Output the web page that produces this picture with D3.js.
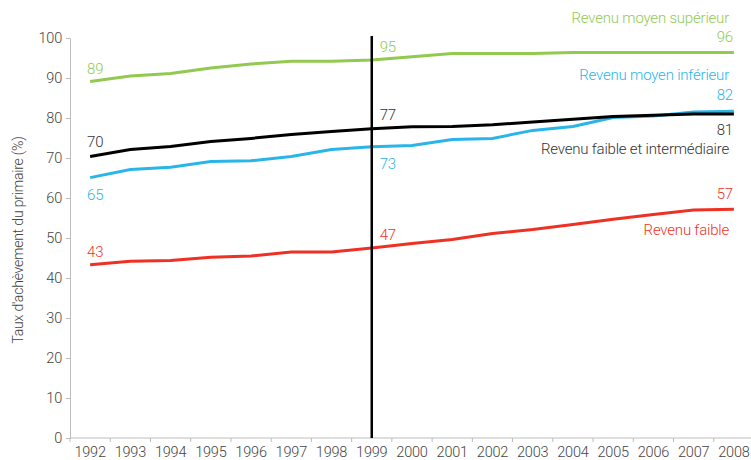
<!DOCTYPE html>
<html>
<head>
<meta charset="utf-8">
<script src="https://cdn.jsdelivr.net/npm/d3@7"></script>
<style>
  body { margin: 0; background: #fff; }
  svg text { font-family: "Roboto", "Liberation Sans", sans-serif; font-weight: 300; letter-spacing: -0.2px; }
  .axis path, .axis line { stroke: #bdbdbd; }
  .axis text { fill: #444; font-size: 14.5px; }
</style>
</head>
<body>
<script>
const WIDTH = 751;
const HEIGHT = 460;

// categories
const years = d3.range(1992, 2009).map(String);
const yTicks = [0, 10, 20, 30, 40, 50, 60, 70, 80, 90, 100];

// series values (%)
const upperMiddle = [89.1, 90.5, 91.1, 92.5, 93.5, 94.2, 94.2, 94.5, 95.3, 96.1, 96.1, 96.1, 96.4, 96.4, 96.4, 96.4, 96.4];
const lowerMiddle = [65.1, 67.1, 67.7, 69.1, 69.3, 70.4, 72.1, 72.8, 73.1, 74.6, 74.9, 76.9, 77.9, 80.1, 80.5, 81.5, 81.7];
const lowAndMiddle = [70.4, 72.1, 72.9, 74.1, 74.9, 75.9, 76.6, 77.3, 77.8, 77.9, 78.3, 79.0, 79.7, 80.4, 80.7, 81.0, 81.0];
const lowIncome = [43.3, 44.2, 44.4, 45.2, 45.5, 46.5, 46.5, 47.5, 48.6, 49.6, 51.1, 52.1, 53.4, 54.7, 55.9, 57.0, 57.2];

const seriesNames = ["Revenu moyen supérieur", "Revenu moyen inférieur", "Revenu faible et intermédiaire", "Revenu faible"];
const seriesColors = ["#92c94f", "#29b5e8", "#000000", "#ee3124"];
const labelColors = ["#92c94f", "#29b5e8", "#333333", "#ee3124"];
// labelled values: 1992, 1999, 2008
const firstLabels = ["89", "65", "70", "43"];
const midLabels = ["95", "73", "77", "47"];
const lastLabels = ["96", "82", "81", "57"];
const markYear = "1999";

const series = [upperMiddle, lowerMiddle, lowAndMiddle, lowIncome];

const margin = { left: 70, right: -3, top: 38, bottom: 22 };

const svg = d3.select("body").append("svg")
  .attr("width", WIDTH)
  .attr("height", HEIGHT);

const x = d3.scaleBand().domain(years)
  .range([margin.left, WIDTH - margin.right]);
const y = d3.scaleLinear().domain([0, 100])
  .range([HEIGHT - margin.bottom, margin.top]);
const cx = d => x(d) + x.bandwidth() / 2;

// axes
const xAxis = d3.axisBottom(x).tickSize(0).tickPadding(9);
const gx = svg.append("g").attr("class", "axis")
  .attr("transform", "translate(0," + (HEIGHT - margin.bottom) + ")")
  .call(xAxis);
gx.select(".domain").attr("d", "M" + margin.left + ",0H" + WIDTH);
// tick marks sit on band boundaries
gx.selectAll(".bound").data(years).enter().append("line")
  .attr("class", "bound")
  .attr("x1", d => x(d)).attr("x2", d => x(d))
  .attr("y1", 0).attr("y2", 4)
  .attr("stroke", "#bdbdbd");

const yAxis = d3.axisLeft(y).tickValues(yTicks).tickSize(4).tickPadding(4);
svg.append("g").attr("class", "axis")
  .attr("transform", "translate(" + margin.left + ",0)")
  .call(yAxis);

svg.append("text")
  .attr("transform", "rotate(-90)")
  .attr("x", -240)
  .attr("y", 23)
  .style("text-anchor", "middle")
  .style("font-size", "14px")
  .style("fill", "#444")
  .text("Taux d'achèvement du primaire (%)");

// lines
const line = d3.line()
  .x((d, i) => cx(years[i]))
  .y(d => y(d));

svg.selectAll(".series").data(series).enter().append("path")
  .attr("class", "series")
  .attr("d", d => line(d))
  .attr("fill", "none")
  .attr("stroke", (d, i) => seriesColors[i])
  .attr("stroke-width", 3);

// vertical marker at 1999
svg.append("line")
  .attr("x1", cx(markYear)).attr("x2", cx(markYear))
  .attr("y1", y(100) - 2).attr("y2", y(0))
  .attr("stroke", "#000").attr("stroke-width", 2.5);

// value labels
const fs = "15px";
const firstDy = [-8, 22, -9, -8];
series.forEach((s, i) => {
  svg.append("text")
    .attr("x", cx(years[0]) - 3)
    .attr("y", y(s[0]) + firstDy[i])
    .style("font-size", fs).style("fill", labelColors[i])
    .text(firstLabels[i]);
  const mi = years.indexOf(markYear);
  svg.append("text")
    .attr("x", cx(markYear) + 8)
    .attr("y", y(s[mi]) + firstDy[i])
    .style("font-size", fs).style("fill", labelColors[i])
    .text(midLabels[i]);
});

// right-end labels: value then series name
const lastDy = [-10, -11, 21, -10];
const nameDy = [-29, -31, 40, 26];
series.forEach((s, i) => {
  const v = s[s.length - 1];
  svg.append("text")
    .attr("x", WIDTH - 18)
    .attr("y", y(v) + lastDy[i])
    .style("font-size", fs).style("fill", labelColors[i])
    .style("text-anchor", "end")
    .text(lastLabels[i]);
  svg.append("text")
    .attr("x", WIDTH - 22)
    .attr("y", y(v) + nameDy[i])
    .style("font-size", fs).style("fill", labelColors[i])
    .style("text-anchor", "end")
    .text(seriesNames[i]);
});
</script>
</body>
</html>
